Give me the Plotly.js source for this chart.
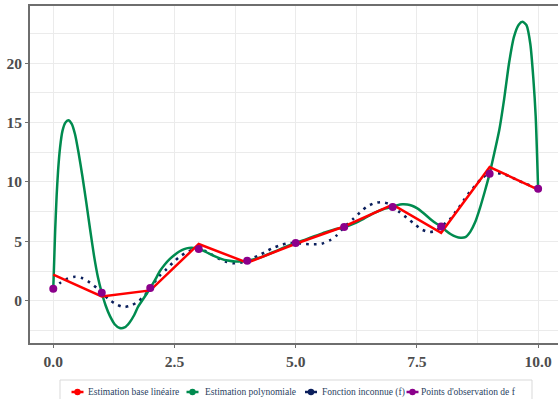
<!DOCTYPE html>
<html>
<head>
<meta charset="utf-8">
<script src="https://cdn.plot.ly/plotly-3.0.1.min.js"></script>
<style>
  html, body { margin: 0; padding: 0; background: #ffffff; }
  #chart { width: 558px; height: 399px; }
</style>
</head>
<body>
<div id="chart"></div>
<script>
// Observation points of f
const obsX = [0, 1, 2, 3, 4, 5, 6, 7, 8, 9, 10];
const obsY = [1.0, 0.67, 1.07, 4.35, 3.37, 4.86, 6.2, 7.9, 6.26, 10.7, 9.43];

// Estimate on the piecewise-linear basis (values at the nodes)
const linX = [0, 1, 2, 3, 4, 5, 6, 7, 8, 9, 10];
const linY = [2.2, 0.36, 0.87, 4.78, 3.2, 4.8, 6.25, 8.09, 5.72, 11.26, 9.36];

// Polynomial estimate, sampled along the curve
const polyX = [0.00, 0.02, 0.04, 0.07, 0.10, 0.14, 0.19, 0.25, 0.31, 0.38, 0.45, 0.52, 0.60, 0.68, 0.76, 0.84, 0.92,
  1.00, 1.08, 1.17, 1.27, 1.37, 1.47, 1.57, 1.67, 1.75, 1.83, 1.92, 2.00, 2.10, 2.20, 2.30, 2.40, 2.50, 2.60, 2.70,
  2.80, 2.90, 3.00, 3.10, 3.20, 3.30, 3.45, 3.60, 3.75, 3.90, 4.00, 4.20, 4.40, 4.60, 4.80, 5.00, 5.20, 5.40, 5.60,
  5.80, 6.00, 6.20, 6.40, 6.60, 6.80, 7.00, 7.10, 7.20, 7.30, 7.40, 7.50, 7.60, 7.70, 7.80, 7.90, 8.00, 8.10, 8.20,
  8.30, 8.40, 8.50, 8.60, 8.70, 8.80, 8.90, 9.00, 9.10, 9.20, 9.30, 9.40, 9.50, 9.60, 9.68, 9.76, 9.84, 9.90, 9.95, 10.00];
const polyY = [1.0, 3.5, 6.0, 8.9, 11.0, 12.9, 14.3, 15.0, 15.2, 14.9, 14.0, 12.5, 10.5, 8.3, 6.0, 3.8, 2.0,
  0.67, -0.4, -1.3, -2.0, -2.3, -2.25, -1.85, -1.2, -0.5, 0.0, 0.55, 1.07, 1.75, 2.5, 3.05, 3.5, 3.85, 4.15, 4.35,
  4.45, 4.45, 4.35, 4.2, 4.0, 3.8, 3.55, 3.38, 3.3, 3.32, 3.37, 3.55, 3.85, 4.2, 4.55, 4.86, 5.15, 5.45, 5.75,
  6.0, 6.2, 6.5, 6.9, 7.35, 7.7, 7.9, 8.05, 8.12, 8.1, 8.0, 7.8, 7.5, 7.15, 6.8, 6.5, 6.26, 5.9, 5.6,
  5.4, 5.3, 5.35, 5.8, 6.6, 7.8, 9.2, 10.7, 12.5, 14.4, 17.0, 20.0, 22.2, 23.25, 23.5, 23.2, 21.6, 18.8, 15.5, 9.43];

// Unknown function f, sampled along the dotted curve
const fX = [0.00, 0.14, 0.30, 0.45, 0.61, 0.76, 0.90, 1.00, 1.14, 1.29, 1.45, 1.61, 1.75, 1.88, 2.00, 2.19, 2.34,
  2.48, 2.62, 2.76, 2.90, 3.00, 3.13, 3.27, 3.43, 3.58, 3.75, 3.90, 4.00, 4.07, 4.23, 4.38, 4.53, 4.69, 4.85, 5.00,
  5.19, 5.36, 5.53, 5.70, 5.84, 6.00, 6.19, 6.33, 6.47, 6.61, 6.76, 6.92, 7.00, 7.15, 7.30, 7.45, 7.60, 7.75, 7.90,
  8.00, 8.18, 8.29, 8.38, 8.48, 8.58, 8.69, 8.80, 8.93, 9.00, 9.10, 9.27, 9.45, 9.60, 9.75, 9.90, 10.00];
const fY = [1.0, 1.49, 1.88, 2.02, 1.88, 1.52, 1.07, 0.67, 0.14, -0.28, -0.53, -0.39, -0.06, 0.42, 1.07, 2.1, 2.67,
  3.26, 3.75, 4.1, 4.3, 4.35, 4.2, 3.88, 3.51, 3.26, 3.15, 3.24, 3.37, 3.5, 3.8, 4.12, 4.44, 4.68, 4.84, 4.86,
  4.78, 4.75, 4.8, 5.08, 5.48, 6.2, 6.9, 7.44, 7.92, 8.2, 8.3, 8.15, 7.9, 7.44, 6.95, 6.46, 6.0, 5.79, 5.9,
  6.26, 6.85, 7.44, 7.94, 8.55, 9.1, 9.63, 10.14, 10.6, 10.7, 10.76, 10.68, 10.4, 10.1, 9.85, 9.6, 9.43];

const xTicks = [0, 2.5, 5, 7.5, 10];
const xTickText = ['0.0', '2.5', '5.0', '7.5', '10.0'];
const yTicks = [0, 5, 10, 15, 20];

const seriesNames = ['Estimation base linéaire', 'Estimation polynomiale', 'Fonction inconnue (f)', "Points d'observation de f"];
const seriesColors = ['#ff0000', '#008b4f', '#0b1f5c', '#8b008b'];

const traces = [
  { x: fX, y: fY, mode: 'lines', line: { color: seriesColors[2], width: 2.6, dash: '2.6px,5.2px', shape: 'spline', smoothing: 0.8 }, name: seriesNames[2], showlegend: false, hoverinfo: 'skip' },
  { x: polyX, y: polyY, mode: 'lines', line: { color: seriesColors[1], width: 2.5, shape: 'spline', smoothing: 0.6 }, name: seriesNames[1], showlegend: false, hoverinfo: 'skip' },
  { x: linX, y: linY, mode: 'lines', line: { color: seriesColors[0], width: 2.5 }, name: seriesNames[0], showlegend: false, hoverinfo: 'skip' },
  { x: obsX, y: obsY, mode: 'markers', marker: { color: seriesColors[3], size: 8 }, name: seriesNames[3], showlegend: false, hoverinfo: 'skip' }
];

// Plot area geometry, in pixels, used to place the legend row below it
const W = 558, H = 399, ML = 30, MR = 0, MT = 6, MB = 56;
const pw = W - ML - MR, ph = H - MT - MB;
const px2x = p => (p - ML) / pw;
const py2y = p => (H - MB - p) / ph;

const legendOrder = [0, 1, 2, 3];
const legendSymbolX = [77.5, 192.5, 311, 412.5];
const legendTextX = [87, 204, 321, 420];
const legendRowY = 392;

const shapes = [
  { type: 'rect', xref: 'paper', yref: 'paper', x0: px2x(60), x1: px2x(532), y0: py2y(380), y1: py2y(410),
    line: { color: '#d9d9d9', width: 1 }, fillcolor: '#ffffff' }
];
const annotations = [];
legendOrder.forEach((k, i) => {
  const cx = legendSymbolX[i];
  shapes.push({ type: 'line', xref: 'paper', yref: 'paper', x0: px2x(cx - 6), x1: px2x(cx + 6),
    y0: py2y(legendRowY), y1: py2y(legendRowY), line: { color: seriesColors[k], width: 2.5 } });
  shapes.push({ type: 'circle', xref: 'paper', yref: 'paper', x0: px2x(cx - 3.2), x1: px2x(cx + 3.2),
    y0: py2y(legendRowY - 3.2), y1: py2y(legendRowY + 3.2), line: { width: 0 }, fillcolor: seriesColors[k] });
  annotations.push({ xref: 'paper', yref: 'paper', x: px2x(legendTextX[i]), y: py2y(legendRowY),
    xanchor: 'left', yanchor: 'middle', showarrow: false, text: seriesNames[k], borderpad: 0,
    font: { family: 'Liberation Serif, serif', size: 9.5, color: '#2a3f5f' } });
});

const tickFont = { family: 'Liberation Serif, serif', size: 15.5, weight: 'bold', color: '#4d4d4d' };

const layout = {
  width: W, height: H,
  margin: { l: ML, r: MR, t: MT, b: MB, pad: 0 },
  paper_bgcolor: '#ffffff', plot_bgcolor: '#ffffff',
  showlegend: false,
  xaxis: {
    range: [-0.48, 10.41], tickvals: xTicks, ticktext: xTickText,
    showgrid: true, gridcolor: '#ebebeb', gridwidth: 1,
    minor: { dtick: 1.25, tick0: 0, showgrid: true, gridcolor: '#ebebeb', gridwidth: 1 },
    zeroline: false, showline: true, linecolor: '#6e6e6e', linewidth: 2, mirror: true,
    ticks: 'outside', ticklen: 3, tickwidth: 1, tickcolor: '#6e6e6e',
    tickfont: tickFont, fixedrange: true
  },
  yaxis: {
    range: [-3.56, 24.82], tickvals: yTicks,
    showgrid: true, gridcolor: '#ebebeb', gridwidth: 1,
    minor: { dtick: 2.5, tick0: 0, showgrid: true, gridcolor: '#ebebeb', gridwidth: 1 },
    zeroline: false, showline: true, linecolor: '#6e6e6e', linewidth: 2,
    ticks: 'outside', ticklen: 3, tickwidth: 1, tickcolor: '#6e6e6e',
    tickfont: tickFont, fixedrange: true
  },
  shapes: shapes,
  annotations: annotations
};

Plotly.newPlot('chart', traces, layout, { staticPlot: true, displayModeBar: false });
</script>
</body>
</html>
